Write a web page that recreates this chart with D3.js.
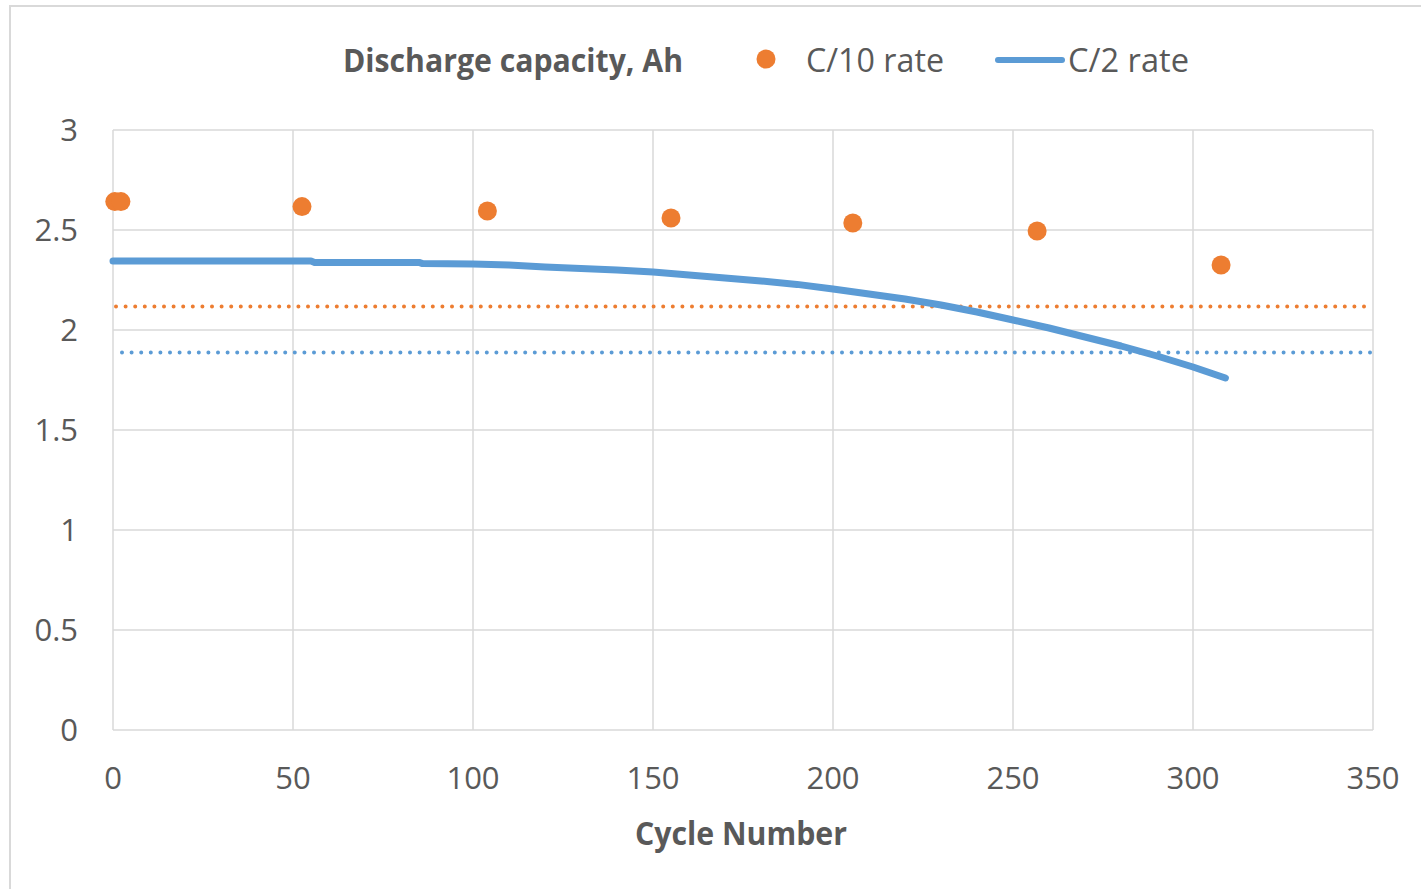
<!DOCTYPE html>
<html>
<head>
  <meta charset="utf-8">
  <script src="https://cdn.jsdelivr.net/npm/d3@7"></script>
  <style>
    body { margin: 0; background: #fff; }
    text { fill: #595959; }
  </style>
</head>
<body>
<script>
  // C/10 rate measurements (scatter)
  var slowCycles = [0.5, 2.2, 52.5, 104, 155, 205.5, 256.7, 307.8];
  var slowCapacity = [2.642, 2.642, 2.617, 2.595, 2.56, 2.535, 2.495, 2.325];

  // C/2 rate curve
  var fastCycles = [0, 20, 40, 55, 56, 85, 86, 100, 110, 120, 130, 140, 150, 160, 170, 180,
                    190, 200, 210, 220, 230, 240, 250, 260, 270, 280, 290, 300, 309];
  var fastCapacity = [2.345, 2.345, 2.345, 2.345, 2.338, 2.338, 2.332, 2.330, 2.325, 2.315, 2.308,
                      2.300, 2.290, 2.275, 2.260, 2.245, 2.228, 2.205, 2.180, 2.155, 2.125, 2.090,
                      2.050, 2.010, 1.965, 1.920, 1.870, 1.815, 1.760];

  // dotted reference levels (end of life limits)
  var limitLevels = [2.117, 1.887];
  var limitNames = ["C/10 rate", "C/2 rate"];

  var xTicks = [0, 50, 100, 150, 200, 250, 300, 350];
  var yTicks = [0, 0.5, 1, 1.5, 2, 2.5, 3];

  var orange = "#ED7D31", blue = "#5B9BD5", grid = "#d9d9d9";
  var W = 1421, H = 889;
  var m = {left: 113, right: 48, top: 130, bottom: 159};

  var svg = d3.select("body").append("svg").attr("width", W).attr("height", H);

  // chart frame
  svg.append("rect").attr("x", 10).attr("y", 6).attr("width", 1420).attr("height", 900)
    .attr("fill", "none").attr("stroke", grid).attr("stroke-width", 2);

  var x = d3.scaleLinear().domain([0, 350]).range([m.left, W - m.right]);
  var y = d3.scaleLinear().domain([0, 3]).range([H - m.bottom, m.top]);

  // gridlines
  svg.append("g").selectAll("line").data(xTicks).enter().append("line")
    .attr("x1", function(d) { return x(d); }).attr("x2", function(d) { return x(d); })
    .attr("y1", y(0)).attr("y2", y(3))
    .attr("stroke", grid).attr("stroke-width", 1.5);
  svg.append("g").selectAll("line").data(yTicks).enter().append("line")
    .attr("x1", x(0)).attr("x2", x(350))
    .attr("y1", function(d) { return y(d); }).attr("y2", function(d) { return y(d); })
    .attr("stroke", grid).attr("stroke-width", 1.5);

  // tick labels
  svg.append("g").selectAll("text").data(yTicks).enter().append("text")
    .attr("x", 78).attr("y", function(d) { return y(d); }).attr("dy", "0.35em")
    .attr("text-anchor", "end")
    .style("font", "31px 'Open Sans'")
    .text(function(d) { return d; });
  svg.append("g").selectAll("text").data(xTicks).enter().append("text")
    .attr("x", function(d) { return x(d); }).attr("y", 778).attr("dy", "0.35em")
    .attr("text-anchor", "middle")
    .style("font", "31px 'Open Sans'")
    .text(function(d) { return d; });

  // axis title
  svg.append("text").attr("x", 741).attr("y", 833).attr("dy", "0.35em")
    .attr("text-anchor", "middle")
    .attr("textLength", 212).attr("lengthAdjust", "spacingAndGlyphs")
    .style("font", "bold 33px 'Open Sans'")
    .text("Cycle Number");

  // dotted limit lines
  svg.append("g").selectAll("line").data(limitLevels).enter().append("line")
    .attr("x1", function(d, i) { return x(0) + 3 + i * 6; })
    .attr("x2", function(d, i) { return i === 0 ? x(350) - 6 : x(350); })
    .attr("y1", function(d) { return y(d); }).attr("y2", function(d) { return y(d); })
    .attr("stroke", function(d, i) { return i === 0 ? orange : blue; })
    .attr("stroke-width", 4)
    .attr("stroke-linecap", "round")
    .attr("stroke-dasharray", "0 9.6");

  // C/2 curve
  var line = d3.line()
    .x(function(d) { return x(d[0]); })
    .y(function(d) { return y(d[1]); });
  svg.append("path")
    .datum(d3.zip(fastCycles, fastCapacity))
    .attr("d", line)
    .attr("fill", "none").attr("stroke", blue)
    .attr("stroke-width", 7).attr("stroke-linecap", "round").attr("stroke-linejoin", "round");

  // C/10 points
  svg.append("g").selectAll("circle").data(d3.zip(slowCycles, slowCapacity)).enter().append("circle")
    .attr("cx", function(d) { return x(d[0]); })
    .attr("cy", function(d) { return y(d[1]); })
    .attr("r", 9.5)
    .attr("fill", orange);

  // legend
  var lg = svg.append("g");
  lg.append("text").attr("x", 343).attr("y", 60).attr("dy", "0.35em")
    .attr("textLength", 340).attr("lengthAdjust", "spacingAndGlyphs")
    .style("font", "bold 33px 'Open Sans'")
    .text("Discharge capacity, Ah");
  lg.append("circle").attr("cx", 766).attr("cy", 59).attr("r", 9.5).attr("fill", orange);
  lg.append("text").attr("x", 806).attr("y", 60).attr("dy", "0.35em")
    .attr("textLength", 138).attr("lengthAdjust", "spacingAndGlyphs")
    .style("font", "33px 'Open Sans'")
    .text(limitNames[0]);
  lg.append("line").attr("x1", 998).attr("x2", 1062).attr("y1", 60).attr("y2", 60)
    .attr("stroke", blue).attr("stroke-width", 6).attr("stroke-linecap", "round");
  lg.append("text").attr("x", 1068).attr("y", 60).attr("dy", "0.35em")
    .attr("textLength", 121).attr("lengthAdjust", "spacingAndGlyphs")
    .style("font", "33px 'Open Sans'")
    .text(limitNames[1]);
</script>
</body>
</html>
